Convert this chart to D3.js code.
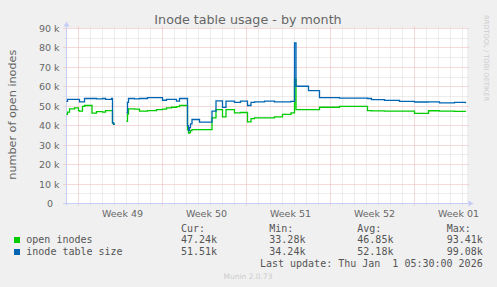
<!DOCTYPE html>
<html><head><meta charset="utf-8">
<script src="https://cdn.jsdelivr.net/npm/d3@7"></script>
<style>html,body{margin:0;padding:0;background:#f0f0f0;}svg{display:block}</style>
</head><body><svg id="c" width="497" height="287"></svg>
<script>
// ---- data ----
const startUTC = Date.UTC(2025, 10, 30);      // left edge of the month graph
const secondsPerPixel = 7200;
const hoursFromStart = [0,2,6,16,24,26,32,36,51,60,72,78,90,92,94,97,98,
  120,122,124,136,146,162,180,192,200,210,220,226,242,244,246,248,251,266,
  291,299,312,319,336,348,362,369,376,396,416,432,449,456,459,484,506,546,
  576,602,610,636,666,696,724,746,776,798];
const openInodes = [45800,47000,48700,49200,47800,47500,50000,50400,46500,47200,47000,47800,47800,41500,40800,40800,null,
  42300,46000,48700,48500,47500,47800,48300,48500,49200,49500,49800,50400,38000,36200,36500,37500,38000,38000,
  44000,48300,44600,48300,46600,46800,42000,43600,44000,44000,44600,45800,46600,64000,48300,48300,49500,50000,
  50000,47800,47600,47500,47500,46300,47700,47500,47400,47240];
const tableSize = [52500,53500,53500,53500,53500,52300,52300,54000,54000,53800,54000,53600,54000,41500,40800,40800,null,
  46600,52000,54000,53800,54000,54400,54400,53100,53500,53500,52600,54000,40000,37500,39000,41000,43200,41800,
  47500,52800,49400,52600,52000,52600,50400,52000,52300,52600,52300,52300,52500,82600,60300,58100,54400,54200,
  54200,54000,53400,53000,52500,52200,52300,51800,52000,51510];
const yTickValues = [0,10000,20000,30000,40000,50000,60000,70000,80000,90000];
const weekLabels = ["Week 49","Week 50","Week 51","Week 52","Week 01"];
const seriesNames = ["open inodes","inode table size"];
const seriesColors = ["#00cc00","#0066b3"];
const statHeaders = ["Cur:","Min:","Avg:","Max:"];
const openStats = ["47.24k","33.28k","46.85k","93.41k"];
const sizeStats = ["51.51k","34.24k","52.18k","99.08k"];
const lastUpdate = "Last update: Thu Jan  1 05:30:00 2026";

// ---- layout ----
const L = 66.5, R = 466.5, T = 28.5, B = 203.5;
const svg = d3.select("#c");
const start = new Date(startUTC), end = new Date(startUTC + 400*secondsPerPixel*1000);
const x = d3.scaleUtc().domain([start, end]).range([L, R]);
const y = d3.scaleLinear().domain([0, 90000]).range([B, T]);
const sans = "'DejaVu Sans', Verdana, sans-serif";
const mono = "'DejaVu Sans Mono', monospace";

svg.append("rect").attr("width",497).attr("height",287).attr("fill","#f0f0f0");
svg.append("rect").attr("x",L+0.5).attr("y",T-0.5).attr("width",R-L).attr("height",B-T+0.5).attr("fill","#ffffff");

const snap = v => Math.round(v - 0.5) + 0.5;
const minorCol = "#dadada", majorCol = "#eeb2b2";

// horizontal grid
const hVals = d3.range(0, 90001, 5000);
svg.append("g").selectAll("line").data(hVals).join("line")
  .attr("x1", L-3).attr("x2", R+2)
  .attr("y1", d => snap(y(d))).attr("y2", d => snap(y(d)))
  .attr("stroke", d => d % 10000 === 0 ? majorCol : minorCol)
  .attr("stroke-dasharray","1,1");

// vertical grid
const days = d3.utcDay.range(d3.utcDay.offset(start,1), end);
svg.append("g").selectAll("line").data(days).join("line")
  .attr("x1", d => snap(x(d))).attr("x2", d => snap(x(d)))
  .attr("y1", T-2).attr("y2", B+3)
  .attr("stroke", d => d.getUTCDay() === 1 ? majorCol : minorCol)
  .attr("stroke-dasharray","1,1");

// axes
const axisCol = "#c6cef6";
svg.append("line").attr("x1",L).attr("x2",L).attr("y1",B+2).attr("y2",T-6).attr("stroke",axisCol);
svg.append("line").attr("x1",L-3).attr("x2",R+5).attr("y1",B).attr("y2",B).attr("stroke",axisCol);
svg.append("path").attr("d",`M${L-3},${T-2}L${L+3},${T-2}L${L},${T-7}Z`).attr("fill",axisCol);
svg.append("path").attr("d",`M${R+2},${B-3}L${R+2},${B+3}L${R+7},${B}Z`).attr("fill",axisCol);

// y tick labels
svg.append("g").selectAll("text").data(yTickValues).join("text")
  .attr("x", d => d === 0 ? 53 : 59.5).attr("y", d => y(d) + 3.5)
  .attr("text-anchor","end").attr("font-family",sans).attr("font-size","9.5px").attr("fill","#666")
  .text(d => d === 0 ? "0" : (d/1000) + " k");

// week labels
const mondays = d3.utcMonday.range(start, end);
svg.append("g").selectAll("text").data(mondays).join("text")
  .attr("x", d => x(d3.utcHour.offset(d, 84)) + 2).attr("y", 216.5)
  .attr("text-anchor","middle").attr("font-family",sans).attr("font-size","9.5px").attr("fill","#666")
  .text((d,i) => weekLabels[i]);

// series
const line = d3.line()
  .defined(d => d.v !== null)
  .x(d => x(d.t)).y(d => y(d.v))
  .curve(d3.curveStepAfter);
[openInodes, tableSize].forEach((vals, k) => {
  const pts = hoursFromStart.map((h, i) => ({t: d3.utcHour.offset(start, h), v: vals[i]}));
  svg.append("path").datum(pts).attr("d", line)
    .attr("fill","none").attr("stroke", seriesColors[k]).attr("stroke-width",1.3);
});

// title
svg.append("text").attr("x",248).attr("y",23.5).attr("text-anchor","middle")
  .attr("font-family",sans).attr("font-size","12.7px").attr("fill","#666")
  .text("Inode table usage - by month");
// y label
svg.append("text").attr("transform","translate(15.5,114.7) rotate(-90)").attr("text-anchor","middle")
  .attr("font-family",sans).attr("font-size","11.2px").attr("fill","#666")
  .text("number of open inodes");
// rrdtool credit
svg.append("text").attr("transform","translate(484,15) rotate(90)")
  .attr("font-family",sans).attr("font-size","6.7px").attr("fill","#cccccc")
  .text("RRDTOOL / TOBI OETIKER");

// legend
const colX = [181, 269.3, 357.3, 446.7];
const lg = svg.append("g").attr("font-family",mono).attr("font-size","10px").attr("fill","#555");
statHeaders.forEach((h,i) => lg.append("text").attr("x",colX[i]).attr("y",231.5).text(h));
[openStats, sizeStats].forEach((st, k) => {
  const by = 243.3 + k*12;
  lg.append("rect").attr("x",14).attr("y",by-6.3).attr("width",6).attr("height",6).attr("fill",seriesColors[k]);
  lg.append("text").attr("x",26.3).attr("y",by).text(seriesNames[k]);
  st.forEach((s,i) => lg.append("text").attr("x",colX[i]).attr("y",by).text(s));
});
lg.append("text").attr("x",482.7).attr("y",266.7).attr("text-anchor","end").style("white-space","pre").text(lastUpdate);
svg.append("text").attr("x",248).attr("y",279).attr("text-anchor","middle")
  .attr("font-family",sans).attr("font-size","7.5px").attr("fill","#cccccc").text("Munin 2.0.73");
</script></body></html>
